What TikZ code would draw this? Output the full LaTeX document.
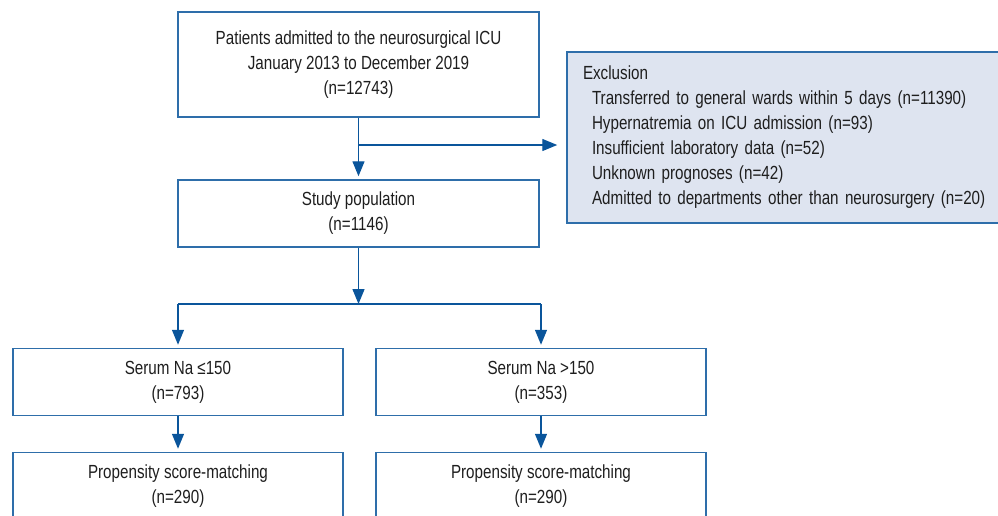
\documentclass[tikz,border=0pt]{standalone}
\usepackage{fontspec}
\setmainfont{Liberation Sans}[FakeStretch=0.8]
\usetikzlibrary{arrows.meta}
\definecolor{boxblue}{RGB}{46,110,170}
\definecolor{arrblue}{RGB}{10,85,155}
\definecolor{exclfill}{RGB}{222,228,240}
\definecolor{txtgray}{RGB}{30,30,30}

\begin{document}
\begin{tikzpicture}[x=1pt, y=-1pt,
		flowbox/.style={draw=boxblue, line width=1.5pt, text=txtgray, align=center,
			font=\fontsize{19}{25}\selectfont, inner sep=0pt},
		arr/.style={draw=arrblue, line width=1.4pt, -{Triangle[length=15pt,width=12pt]}, shorten >=3pt},
		plain/.style={draw=arrblue, line width=1.4pt}]
			%%%%% START %%%%%
			\useasboundingbox (0, 0) rectangle (998, 515);
			
			\node[flowbox, minimum width=361pt, minimum height=105pt] (admitted) at (358.5, 64.5)
				{Patients admitted to the neurosurgical ICU\\January 2013 to December 2019\\(n=12743)};
			\node[flowbox, fill=exclfill, minimum height=171pt, text width=403pt, align=left,
				inner xsep=16pt] (exclusion) at (784.5, 137.5)
				{Exclusion\\
				\hspace*{9pt}Transferred to general wards within 5 days (n=11390)\\
				\hspace*{9pt}Hypernatremia on ICU admission (n=93)\\
				\hspace*{9pt}Insufficient laboratory data (n=52)\\
				\hspace*{9pt}Unknown prognoses (n=42)\\
				\hspace*{9pt}Admitted to departments other than neurosurgery (n=20)};
			\node[flowbox, minimum width=361pt, minimum height=67pt] (study) at (358.5, 213.5)
				{Study population\\(n=1146)};
			
			\node[flowbox, minimum width=330pt, minimum height=67pt] (low) at (178, 382)
				{Serum Na ≤150\\(n=793)};
			\node[flowbox, minimum width=330pt, minimum height=67pt] (high) at (541, 382)
				{Serum Na >150\\(n=353)};
			\node[flowbox, minimum width=330pt, minimum height=67pt] (lowpsm) at (178, 486)
				{Propensity score-matching\\(n=290)};
			\node[flowbox, minimum width=330pt, minimum height=67pt] (highpsm) at (541, 486)
				{Propensity score-matching\\(n=290)};
			
			%%%%% ARROWS %%%%%
			\coordinate (branch) at (358.5, 145);
			\coordinate (split) at (358.5, 304);
			
			\draw[arr] (admitted.south) -- (study.north);
			\draw[arr, shorten >=9pt] (branch) -- (exclusion.west |- branch);
			
			\draw[arr, shorten >=0pt] (study.south) -- (split);
			\draw[plain] (low.north |- split) -- (high.north |- split);
			\draw[arr] (low.north |- split) -- (low.north);
			\draw[arr] (high.north |- split) -- (high.north);
			
			\draw[arr] (low.south) -- (lowpsm.north);
			\draw[arr] (high.south) -- (highpsm.north);
			%%%%% END %%%%%
\end{tikzpicture}
\end{document}
